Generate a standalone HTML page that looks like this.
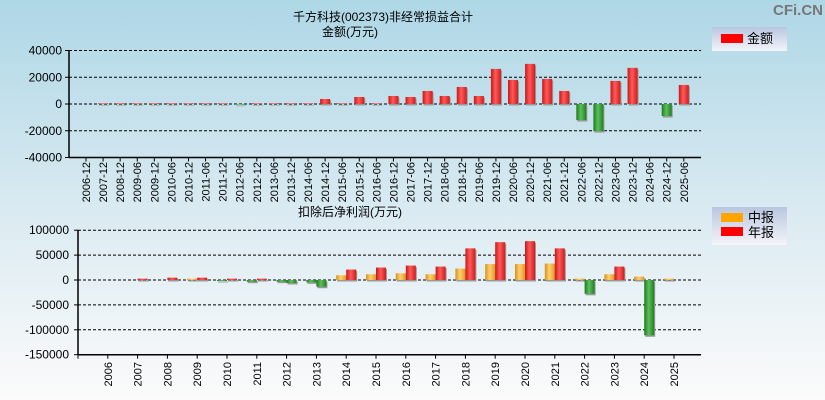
<!DOCTYPE html>
<html><head><meta charset="utf-8"><style>
body{margin:0;width:825px;height:400px;overflow:hidden;font-family:"Liberation Sans","Noto Sans CJK SC",sans-serif;}
svg{display:block}
text{font-family:"Liberation Sans","Noto Sans CJK SC",sans-serif;}
</style></head><body>
<svg id="c" width="825" height="400" xmlns="http://www.w3.org/2000/svg">
<defs>
<linearGradient id="bg" x1="0" y1="0" x2="0" y2="1"><stop offset="0" stop-color="#aed7e6"/><stop offset="0.55" stop-color="#dcebf2"/><stop offset="1" stop-color="#fbfbfb"/></linearGradient>
<linearGradient id="lg" x1="0" y1="0" x2="0" y2="1"><stop offset="0" stop-color="#b9c6e0"/><stop offset="1" stop-color="#f4f4f8"/></linearGradient>
<linearGradient id="gr" x1="0" x2="1"><stop offset="0" stop-color="#c81818"/><stop offset="0.45" stop-color="#ff5a5a"/><stop offset="1" stop-color="#d01c1c"/></linearGradient>
<linearGradient id="gg" x1="0" x2="1"><stop offset="0" stop-color="#1d7a1d"/><stop offset="0.45" stop-color="#5cbf5c"/><stop offset="1" stop-color="#1f7f1f"/></linearGradient>
<linearGradient id="go" x1="0" x2="1"><stop offset="0" stop-color="#d89018"/><stop offset="0.45" stop-color="#ffd070"/><stop offset="1" stop-color="#e09a20"/></linearGradient>
</defs>
<rect width="825" height="400" fill="url(#bg)"/>
<text x="798" y="15" font-size="15" font-weight="bold" fill="#777" text-anchor="middle">CFi.CN</text>
<text x="383" y="21" font-size="12" text-anchor="middle">千方科技(002373)非经常损益合计</text>
<text x="350" y="36" font-size="12" text-anchor="middle">金额(万元)</text>
<text x="350" y="216" font-size="12" text-anchor="middle">扣除后净利润(万元)</text>
<g>
<rect x="712" y="27" width="75" height="24" fill="url(#lg)"/>
<rect x="721" y="34" width="22" height="9" fill="#f00"/>
<text x="747" y="43" font-size="13">金额</text>
</g>
<g>
<rect x="712" y="207" width="75" height="38" fill="url(#lg)"/>
<rect x="721" y="213" width="22" height="9" fill="#ffa500"/>
<text x="748" y="222" font-size="13">中报</text>
<rect x="721" y="227" width="22" height="9" fill="#f00"/>
<text x="748" y="237" font-size="13">年报</text>
</g>
<g id="top"></g><g id="bot"></g>
</svg>
<script>
const topCats=["2006-12","2007-12","2008-12","2009-06","2009-12","2010-06","2010-12","2011-06","2011-12","2012-06","2012-12","2013-06","2013-12","2014-06","2014-12","2015-06","2015-12","2016-06","2016-12","2017-06","2017-12","2018-06","2018-12","2019-06","2019-12","2020-06","2020-12","2021-06","2021-12","2022-06","2022-12","2023-06","2023-12","2024-06","2024-12","2025-06"];
const topVals=[0,500,500,500,500,500,500,500,500,-500,500,500,500,500,3750,500,5250,500,6000,5250,9750,6000,12750,6000,26250,18000,30000,18750,9750,-12000,-20250,17250,27000,0,-9000,14250];
const topTicks=[40000,20000,0,-20000,-40000];
const botCats=["2006","2007","2008","2009","2010","2011","2012","2013","2014","2015","2016","2017","2018","2019","2020","2021","2022","2023","2024","2025"];
const midVals=[0,0,0,2700,-2000,-3400,-3400,-4700,9500,11500,13500,11500,23000,32000,32000,33000,2700,11500,6800,2700];
const annVals=[0,2700,4700,4700,2700,2700,-6000,-13500,21000,25000,29000,27000,63500,76000,78000,63500,-27700,27000,-111000,0];
const botTicks=[100000,50000,0,-50000,-100000,-150000];
const NS="http://www.w3.org/2000/svg";
function mk(p,tag,a){const e=document.createElementNS(NS,tag);for(const k in a)e.setAttribute(k,a[k]);p.appendChild(e);return e;}
// top chart
const T=document.getElementById('top');
const tY=v=>104-v*(26.75/20000);
const tX=i=>86+17.08*i;
const tX0=69,tX1=701;
topTicks.forEach(v=>{
 const g=mk(T,'line',{x1:tX0,x2:tX1,y1:tY(v),y2:tY(v),stroke:'#000','stroke-dasharray':'3,2','stroke-width':1});
 
 
 mk(T,'line',{x1:tX0-4,x2:tX0,y1:tY(v),y2:tY(v),stroke:'#000'});
 const t=mk(T,'text',{x:tX0-7,y:tY(v)+4,'font-size':12,'text-anchor':'end'});t.textContent=v;
 
 
});
mk(T,'line',{x1:tX0,x2:tX0,y1:tY(40000),y2:tY(-40000),stroke:'#000','stroke-width':1.5});
mk(T,'line',{x1:tX0,x2:tX1,y1:tY(-40000),y2:tY(-40000),stroke:'#000','stroke-width':1.5});
topCats.forEach((c,i)=>{
 const x=tX(i);
 mk(T,'line',{x1:x,x2:x,y1:tY(-40000),y2:tY(-40000)+4,stroke:'#000'});
 const t=mk(T,'text',{transform:`translate(${x+4},162) rotate(-90)`,'font-size':11,'text-anchor':'end'});t.textContent=c;
 
 
 const v=topVals[i];if(!v)return;
 const y0=tY(0),y1=tY(v);
 mk(T,'rect',{x:x-4,y:Math.min(y0,y1)+1.5,width:10,height:Math.abs(y1-y0),fill:'#999'});
 const r=mk(T,'rect',{x:x-5,y:Math.min(y0,y1),width:10,height:Math.abs(y1-y0),fill:v>0?'url(#gr)':'url(#gg)'});
 
 
});
// bottom chart
const B=document.getElementById('bot');
const bY=v=>280-v*(24.9/50000);
const bX=i=>78+29.8*(i+1);
const bX0=78,bX1=701;
botTicks.forEach(v=>{
 if(v>-150000){const g=mk(B,'line',{x1:bX0,x2:bX1,y1:bY(v),y2:bY(v),stroke:'#000','stroke-dasharray':'3,2'});
 
 }
 mk(B,'line',{x1:bX0-4,x2:bX0,y1:bY(v),y2:bY(v),stroke:'#000'});
 const t=mk(B,'text',{x:bX0-9,y:bY(v)+4,'font-size':12,'text-anchor':'end'});t.textContent=v;
 
 
});
mk(B,'line',{x1:bX0,x2:bX0,y1:bY(100000),y2:bY(-150000),stroke:'#000','stroke-width':1.5});
mk(B,'line',{x1:bX0,x2:bX1,y1:bY(-150000),y2:bY(-150000),stroke:'#000','stroke-width':1.5});
mk(B,'line',{x1:bX0,x2:bX0,y1:bY(-150000),y2:bY(-150000)+4,stroke:'#000'});
botCats.forEach((c,i)=>{
 const x=bX(i);
 mk(B,'line',{x1:x,x2:x,y1:bY(-150000),y2:bY(-150000)+4,stroke:'#000'});
 const t=mk(B,'text',{transform:`translate(${x+4},362) rotate(-90)`,'font-size':11,'text-anchor':'end'});t.textContent=c;
 
 
 [[midVals[i],x-10,'url(#go)'],[annVals[i],x,'url(#gr)']].forEach(([v,bx,f])=>{
  if(!v)return;
  const y0=bY(0),y1=bY(v);
  mk(B,'rect',{x:bx+1,y:Math.min(y0,y1)+1.5,width:10,height:Math.abs(y1-y0),fill:'#999'});
  const r=mk(B,'rect',{x:bx,y:Math.min(y0,y1),width:10,height:Math.max(1,Math.abs(y1-y0)),fill:v>0?f:'url(#gg)'});
  
  
 });
});
</script>
</body></html>
